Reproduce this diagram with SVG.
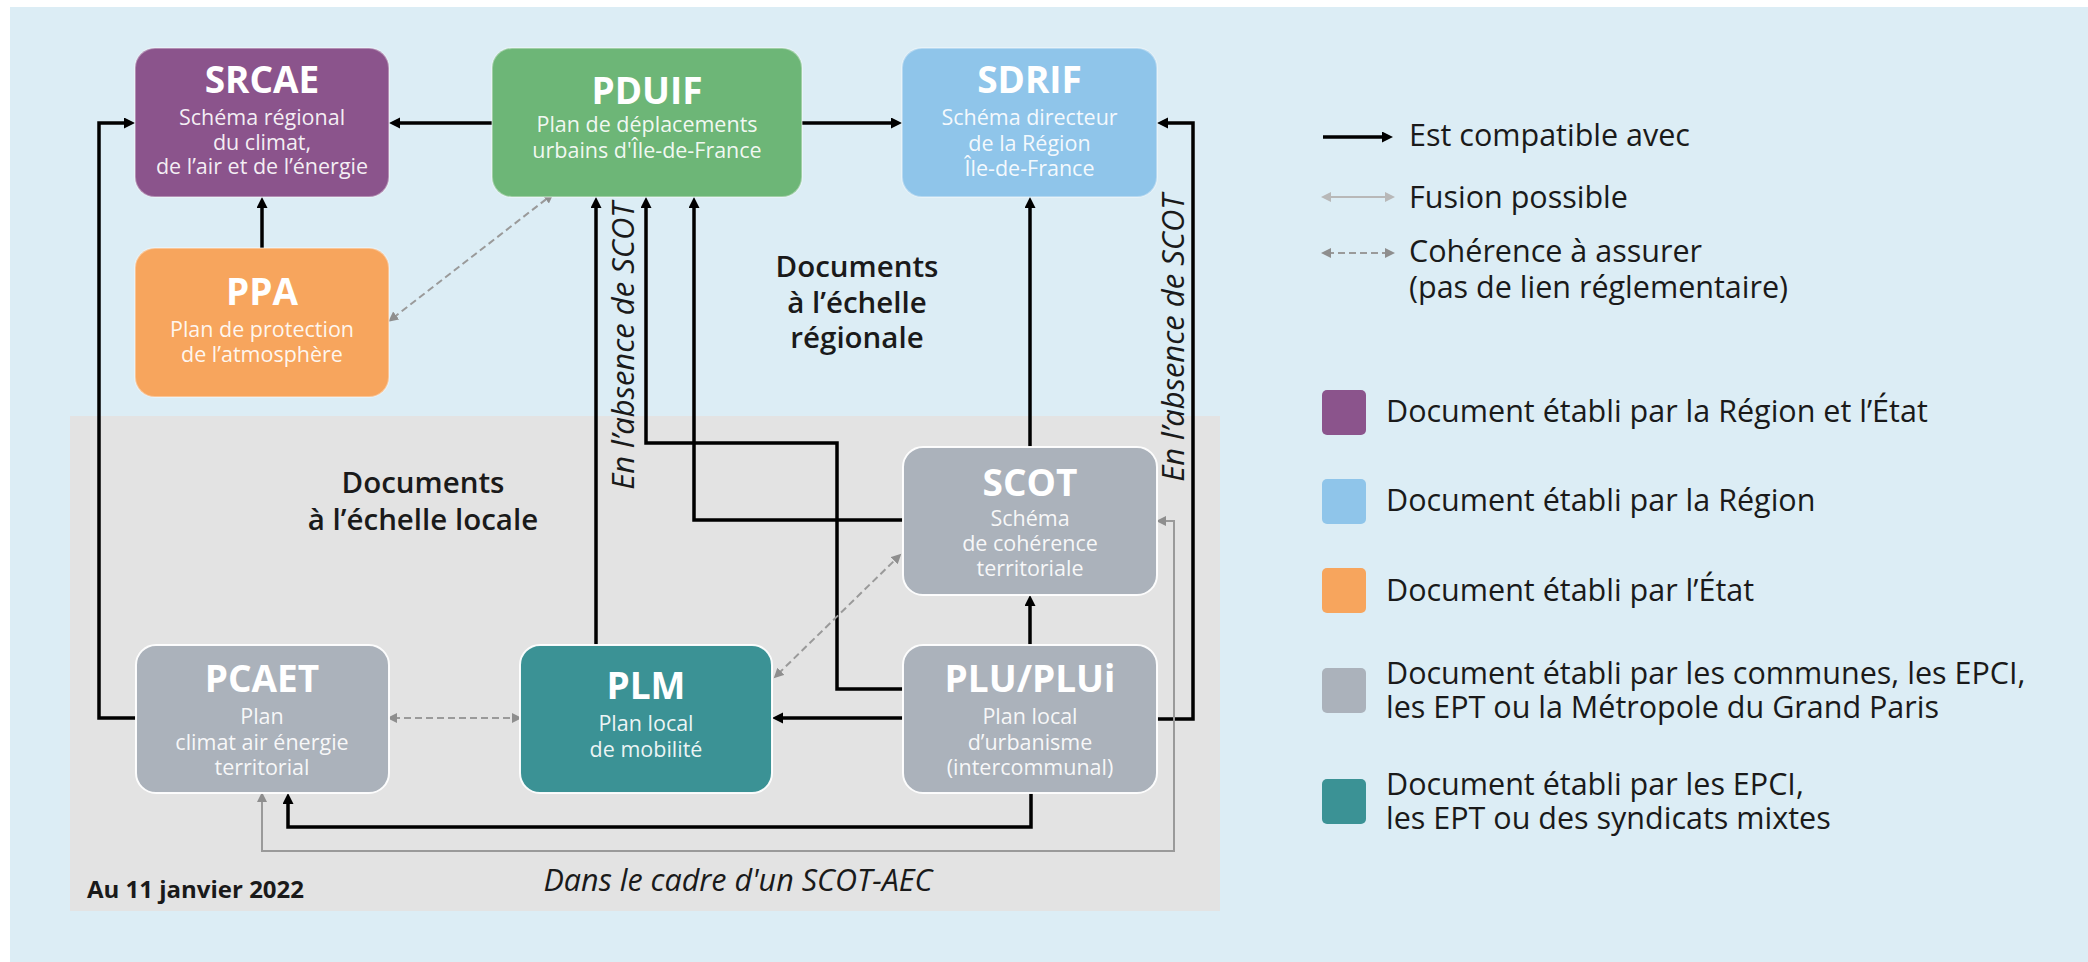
<svg xmlns="http://www.w3.org/2000/svg" width="2088" height="962" viewBox="0 0 2088 962">
<defs>
<style>
.bg{fill:#ffffff}
.sky{fill:#dcedf5}
.zone{fill:#e3e3e3}
.box{stroke-width:2}
.up{stroke:#ffffff;stroke-opacity:0.35}
.low{stroke:#ffffff;stroke-opacity:0.95}
.title{font-family:"Open Sans","Liberation Sans",sans-serif;font-weight:700;font-size:37px;fill:#ffffff;text-anchor:middle}
.sub{font-family:"Open Sans","Liberation Sans",sans-serif;font-size:21.5px;fill:#ffffff;fill-opacity:0.92;text-anchor:middle}
.blk{fill:none;stroke:#000000;stroke-width:3.5;stroke-linejoin:miter}
.gry{fill:none;stroke:#9a9a9a;stroke-width:2}
.dsh{fill:none;stroke:#9a9a9a;stroke-width:2;stroke-dasharray:7 4}
.lab{font-family:"Open Sans","Liberation Sans",sans-serif;font-size:29.5px;font-weight:600;fill:#1a1a1a;text-anchor:middle}
.rot{font-family:"Open Sans","Liberation Sans",sans-serif;font-size:31px;font-style:italic;fill:#1a1a1a;text-anchor:middle}
.leg{font-family:"Open Sans","Liberation Sans",sans-serif;font-size:30.5px;fill:#1a1a1a}
</style>
<marker id="ab" markerUnits="userSpaceOnUse" markerWidth="12" markerHeight="12" refX="5" refY="5.5" orient="auto-start-reverse">
<path d="M0,0 L11,5.5 L0,11 Z" fill="#000000"/>
</marker>
<marker id="ag" markerUnits="userSpaceOnUse" markerWidth="12" markerHeight="12" refX="4" refY="5" orient="auto-start-reverse">
<path d="M0,0 L10,5 L0,10 Z" fill="#8e8e8e"/>
</marker>
<marker id="al" markerUnits="userSpaceOnUse" markerWidth="12" markerHeight="12" refX="4" refY="5" orient="auto-start-reverse">
<path d="M0,0 L10,5 L0,10 Z" fill="#b8b8b8"/>
</marker>
</defs>

<rect class="bg" x="0" y="0" width="2088" height="962"/>
<rect class="sky" x="10" y="7" width="2078" height="955"/>
<rect class="zone" x="70" y="416" width="1150" height="495"/>

<g id="connectors">
<path class="blk" d="M492,123 H395" marker-end="url(#ab)"/>
<path class="blk" d="M802,123 H896" marker-end="url(#ab)"/>
<path class="blk" d="M262,248 V203" marker-end="url(#ab)"/>
<path class="blk" d="M136,718 H99 V123 H129" marker-end="url(#ab)"/>
<path class="blk" d="M596,645 V203" marker-end="url(#ab)"/>
<path class="blk" d="M903,689 H837 V443 H646 V203" marker-end="url(#ab)"/>
<path class="blk" d="M903,520 H694 V203" marker-end="url(#ab)"/>
<path class="blk" d="M1030,447 V203" marker-end="url(#ab)"/>
<path class="blk" d="M1157,719 H1193 V123 H1163" marker-end="url(#ab)"/>
<path class="blk" d="M1030,645 V601" marker-end="url(#ab)"/>
<path class="blk" d="M903,718 H778" marker-end="url(#ab)"/>
<path class="blk" d="M1031,793 V827 H288 V799" marker-end="url(#ab)"/>
<path class="gry" d="M262,798 V851 H1174 V521 H1162" marker-start="url(#ag)" marker-end="url(#ag)"/>
<path class="dsh" d="M393,318 L549,197" marker-start="url(#ag)" marker-end="url(#ag)"/>
<path class="dsh" d="M393,718 H516" marker-start="url(#ag)" marker-end="url(#ag)"/>
<path class="dsh" d="M778,674 L897,558" marker-start="url(#ag)" marker-end="url(#ag)"/>
</g>

<g id="node-srcae">
<rect class="box up" x="135" y="48" width="254" height="149" rx="20" fill="#8b548c"/>
<text class="title" x="262" y="93">SRCAE</text>
<text class="sub" x="262" y="125">Schéma régional<tspan x="262" dy="24.5">du climat,</tspan><tspan x="262" dy="24.5">de l’air et de l’énergie</tspan></text>
</g>
<g id="node-pduif">
<rect class="box up" x="492" y="48" width="310" height="149" rx="20" fill="#6db677"/>
<text class="title" x="647" y="104">PDUIF</text>
<text class="sub" x="647" y="132">Plan de déplacements<tspan x="647" dy="26">urbains d'Île-de-France</tspan></text>
</g>
<g id="node-sdrif">
<rect class="box up" x="902" y="48" width="255" height="149" rx="20" fill="#8fc5ea"/>
<text class="title" x="1029.5" y="93">SDRIF</text>
<text class="sub" x="1029.5" y="125">Schéma directeur<tspan x="1029.5" dy="25.5">de la Région</tspan><tspan x="1029.5" dy="25.5">Île-de-France</tspan></text>
</g>
<g id="node-ppa">
<rect class="box up" x="135" y="248" width="254" height="149" rx="20" fill="#f7a55d"/>
<text class="title" x="262" y="305">PPA</text>
<text class="sub" x="262" y="337">Plan de protection<tspan x="262" dy="25">de l’atmosphère</tspan></text>
</g>
<g id="node-scot">
<rect class="box low" x="903" y="447" width="254" height="148" rx="20" fill="#abb2bb"/>
<text class="title" x="1030" y="496">SCOT</text>
<text class="sub" x="1030" y="526">Schéma<tspan x="1030" dy="25">de cohérence</tspan><tspan x="1030" dy="25">territoriale</tspan></text>
</g>
<g id="node-pcaet">
<rect class="box low" x="136" y="645" width="253" height="148" rx="20" fill="#abb2bb"/>
<text class="title" x="262" y="692">PCAET</text>
<text class="sub" x="262" y="724">Plan<tspan x="262" dy="25.5">climat air énergie</tspan><tspan x="262" dy="25.5">territorial</tspan></text>
</g>
<g id="node-plm">
<rect class="box low" x="520" y="645" width="252" height="148" rx="20" fill="#3b9295"/>
<text class="title" x="646" y="699">PLM</text>
<text class="sub" x="646" y="731">Plan local<tspan x="646" dy="26">de mobilité</tspan></text>
</g>
<g id="node-plu">
<rect class="box low" x="903" y="645" width="254" height="148" rx="20" fill="#abb2bb"/>
<text class="title" x="1030" y="692">PLU/PLUi</text>
<text class="sub" x="1030" y="724">Plan local<tspan x="1030" dy="25.5">d’urbanisme</tspan><tspan x="1030" dy="25">(intercommunal)</tspan></text>
</g>

<g id="labels">
<text class="lab" x="857" y="277">Documents<tspan x="857" dy="35.5">à l’échelle</tspan><tspan x="857" dy="35.5">régionale</tspan></text>
<text class="lab" x="423" y="493">Documents<tspan x="423" dy="37">à l’échelle locale</tspan></text>
<text class="rot" transform="translate(634,346) rotate(-90)">En l’absence de SCOT</text>
<text class="rot" transform="translate(1184,338) rotate(-90)">En l’absence de SCOT</text>
<text x="87" y="898" font-family="Open Sans, Liberation Sans, sans-serif" font-weight="700" font-size="24" fill="#1a1a1a">Au 11 janvier 2022</text>
<text x="738" y="891" font-family="Open Sans, Liberation Sans, sans-serif" font-style="italic" font-size="30.5" fill="#1a1a1a" text-anchor="middle">Dans le cadre d'un SCOT-AEC</text>
</g>

<g id="legend">
<path class="blk" d="M1323,137 H1387" stroke-width="3" marker-end="url(#ab)"/>
<text class="leg" x="1409" y="146">Est compatible avec</text>
<path fill="none" stroke="#b8b8b8" stroke-width="2" d="M1327,197 H1389" marker-start="url(#al)" marker-end="url(#al)"/>
<text class="leg" x="1409" y="208">Fusion possible</text>
<path class="dsh" d="M1327,253 H1389" stroke="#8e8e8e" stroke-dasharray="5 4" marker-start="url(#ag)" marker-end="url(#ag)"/>
<text class="leg" x="1409" y="262">Cohérence à assurer<tspan x="1409" dy="36">(pas de lien réglementaire)</tspan></text>
<rect x="1322" y="390" width="44" height="45" rx="5" fill="#8b548c"/>
<text class="leg" x="1386" y="422">Document établi par la Région et l’État</text>
<rect x="1322" y="479" width="44" height="45" rx="5" fill="#8fc5ea"/>
<text class="leg" x="1386" y="511">Document établi par la Région</text>
<rect x="1322" y="568" width="44" height="45" rx="5" fill="#f7a55d"/>
<text class="leg" x="1386" y="601">Document établi par l’État</text>
<rect x="1322" y="668" width="44" height="45" rx="5" fill="#abb2bb"/>
<text class="leg" x="1386" y="684">Document établi par les communes, les EPCI,<tspan x="1386" dy="34">les EPT ou la Métropole du Grand Paris</tspan></text>
<rect x="1322" y="779" width="44" height="45" rx="5" fill="#3b9295"/>
<text class="leg" x="1386" y="795">Document établi par les EPCI,<tspan x="1386" dy="34">les EPT ou des syndicats mixtes</tspan></text>
</g>
</svg>
